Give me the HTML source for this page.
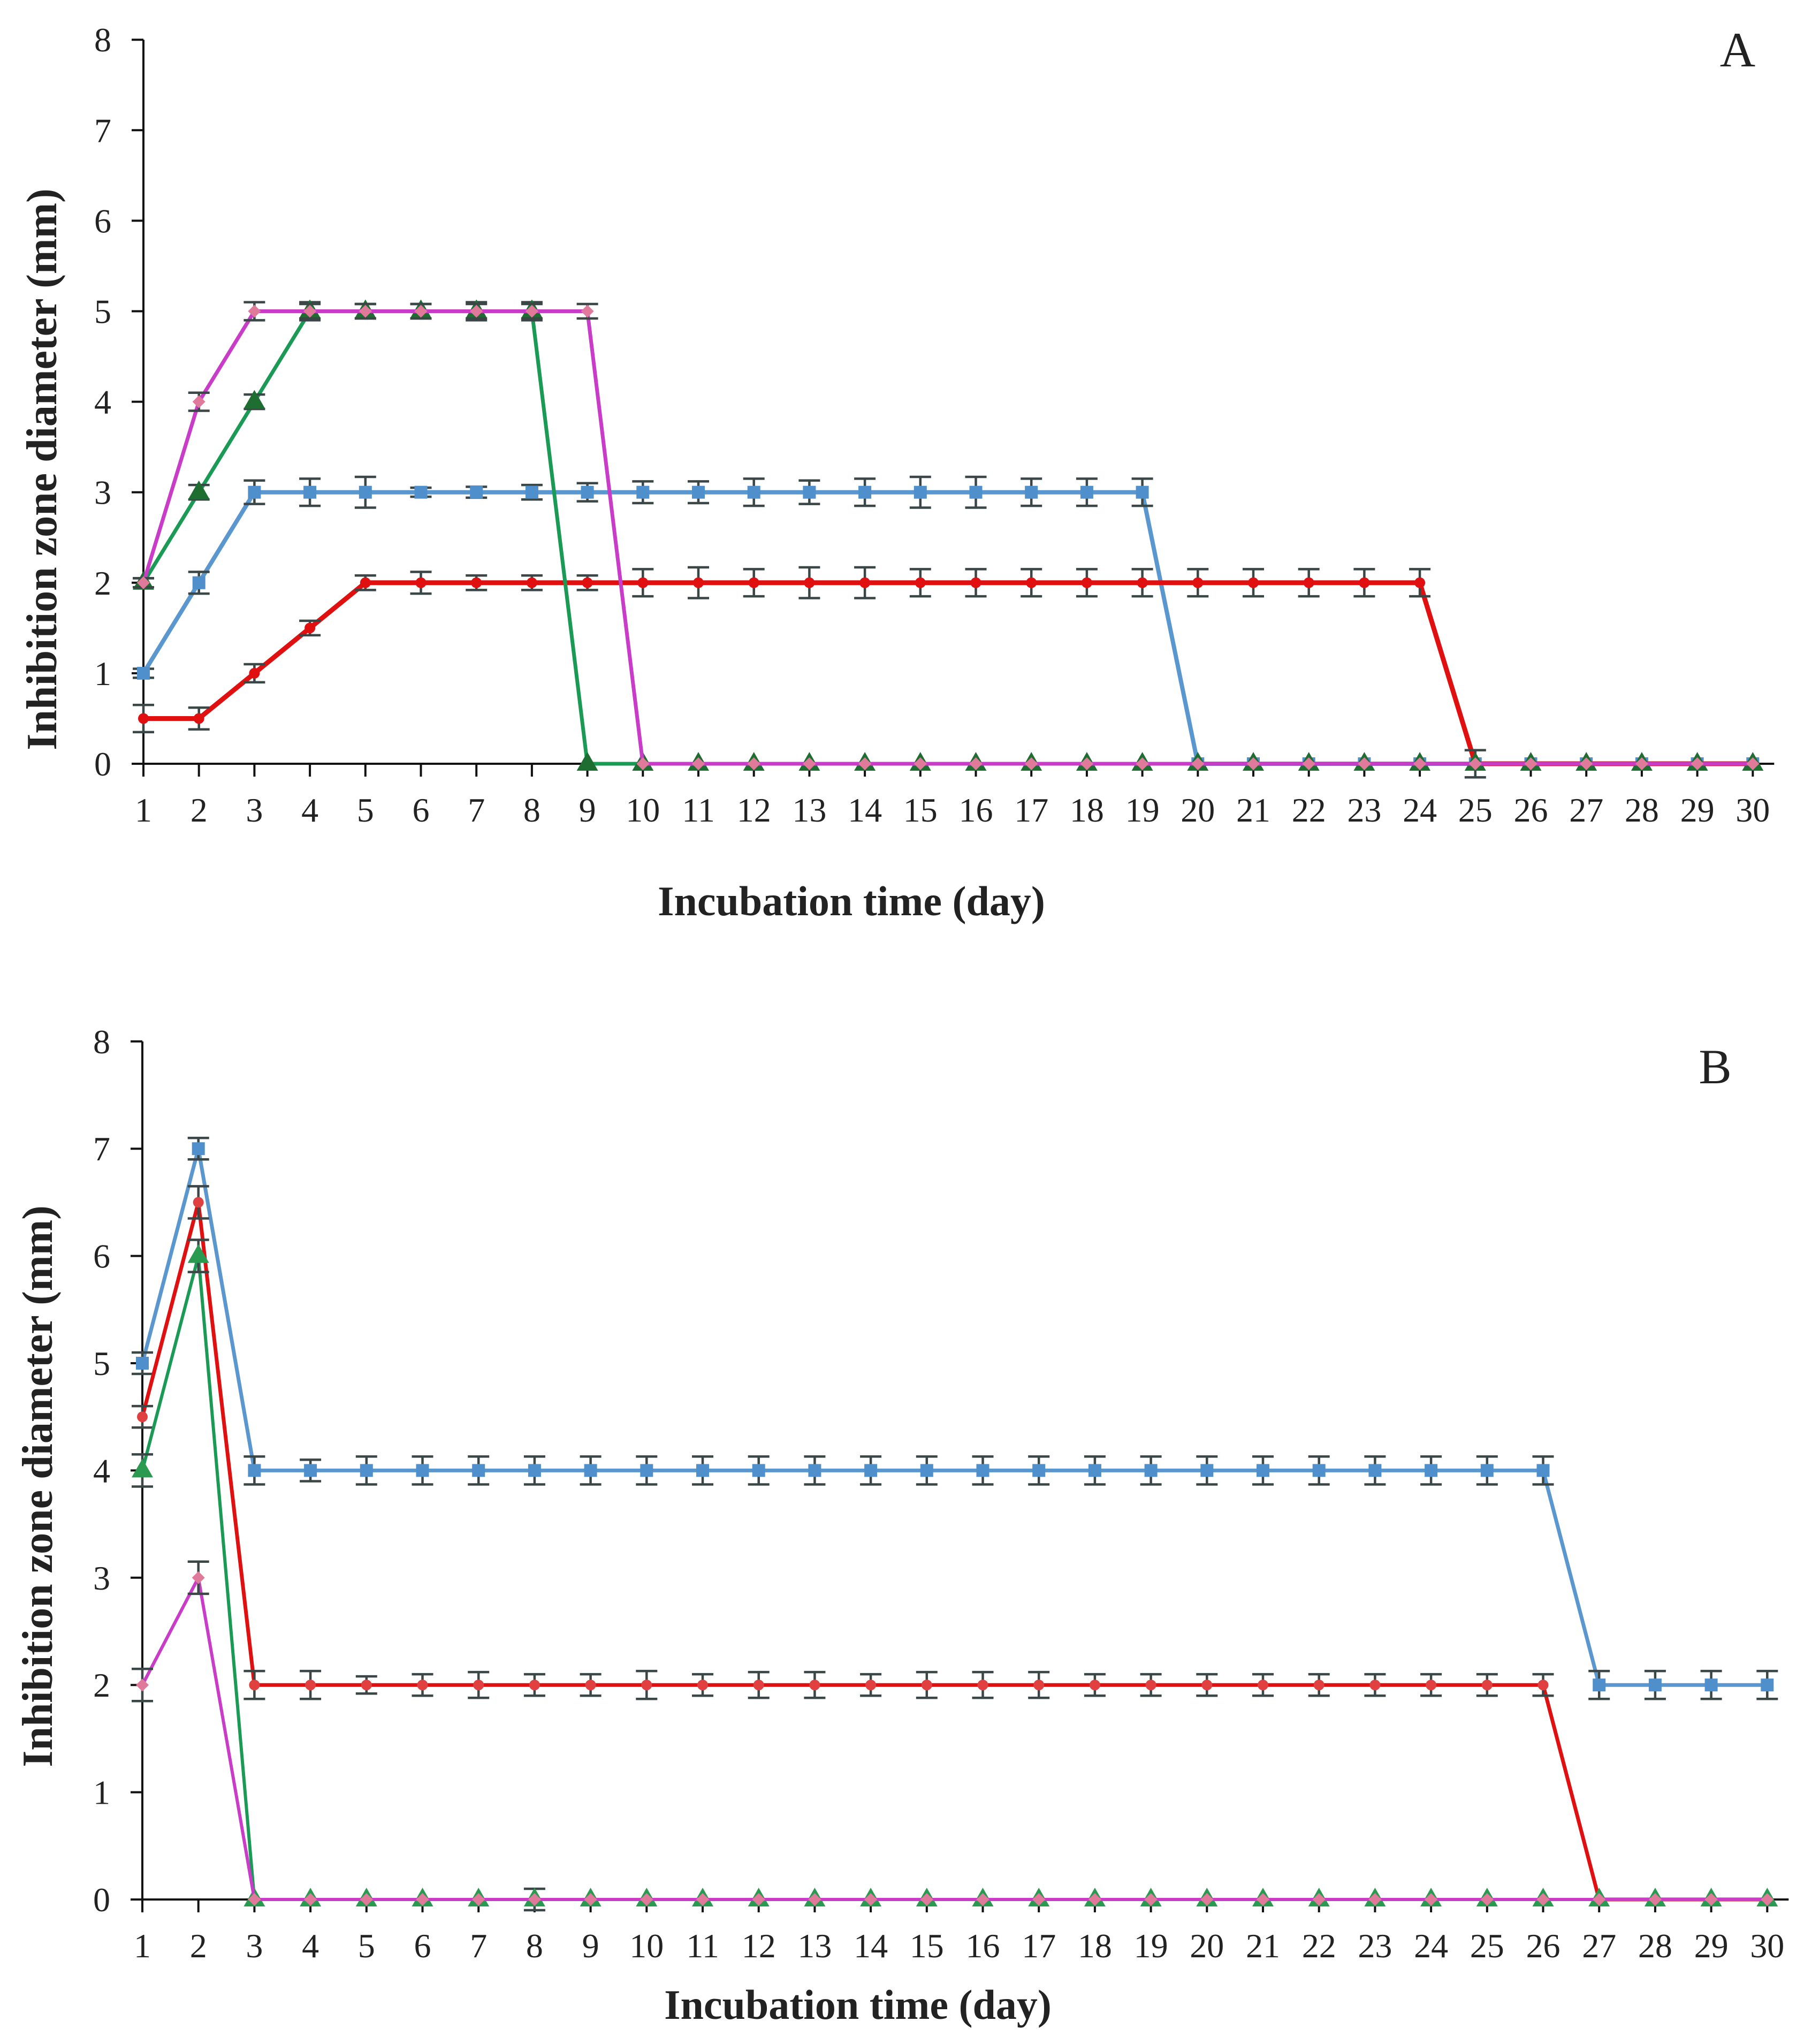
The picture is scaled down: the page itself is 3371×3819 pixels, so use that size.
<!DOCTYPE html>
<html><head><meta charset="utf-8">
<style>
html,body{margin:0;padding:0;background:#fff;}
svg{display:block;}
text{font-family:"Liberation Serif",serif;fill:#222;}
</style></head>
<body>
<svg id="fig" width="3371" height="3819" viewBox="0 0 3371 3819" xmlns="http://www.w3.org/2000/svg"></svg>
<script>
// ---- data ----
const days = [1,2,3,4,5,6,7,8,9,10,11,12,13,14,15,16,17,18,19,20,21,22,23,24,25,26,27,28,29,30];
const yTicks = [0,1,2,3,4,5,6,7,8];

const aRed     = [0.5,0.5,1,1.5,2,2,2,2,2,2,2,2,2,2,2,2,2,2,2,2,2,2,2,2,0,0,0,0,0,0];
const aBlue    = [1,2,3,3,3,3,3,3,3,3,3,3,3,3,3,3,3,3,3,0,0,0,0,0,0,0,0,0,0,0];
const aGreen   = [2,3,4,5,5,5,5,5,0,0,0,0,0,0,0,0,0,0,0,0,0,0,0,0,0,0,0,0,0,0];
const aMagenta = [2,4,5,5,5,5,5,5,5,0,0,0,0,0,0,0,0,0,0,0,0,0,0,0,0,0,0,0,0,0];
const aRedErr  = [0.15,0.12,0.1,0.08,0.08,0.12,0.08,0.08,0.08,0.15,0.17,0.15,0.17,0.17,0.15,0.15,0.15,0.15,0.15,0.15,0.15,0.15,0.15,0.15,0.15,0,0,0,0,0];
const aBlueErr = [0.05,0.12,0.13,0.15,0.17,0.05,0.06,0.08,0.1,0.12,0.12,0.15,0.13,0.15,0.17,0.17,0.15,0.15,0.15,0,0,0,0,0,0,0,0,0,0,0];
const aGreenErr= [0.05,0.08,0.08,0.1,0.08,0.08,0.1,0.1,0,0,0,0,0,0,0,0,0,0,0,0,0,0,0,0,0,0,0,0,0,0];
const aMagErr  = [0.05,0.1,0.1,0.08,0.08,0.08,0.08,0.08,0.08,0,0,0,0,0,0,0,0,0,0,0,0,0,0,0,0,0,0,0,0,0];

const bBlue    = [5,7,4,4,4,4,4,4,4,4,4,4,4,4,4,4,4,4,4,4,4,4,4,4,4,4,2,2,2,2];
const bRed     = [4.5,6.5,2,2,2,2,2,2,2,2,2,2,2,2,2,2,2,2,2,2,2,2,2,2,2,2,0,0,0,0];
const bGreen   = [4,6,0,0,0,0,0,0,0,0,0,0,0,0,0,0,0,0,0,0,0,0,0,0,0,0,0,0,0,0];
const bMagenta = [2,3,0,0,0,0,0,0,0,0,0,0,0,0,0,0,0,0,0,0,0,0,0,0,0,0,0,0,0,0];
const bBlueErr = [0.1,0.1,0.13,0.1,0.13,0.13,0.13,0.13,0.13,0.13,0.13,0.13,0.13,0.13,0.13,0.13,0.13,0.13,0.13,0.13,0.13,0.13,0.13,0.13,0.13,0.13,0.13,0.13,0.13,0.13];
const bRedErr  = [0.1,0.15,0.13,0.13,0.08,0.1,0.12,0.1,0.1,0.13,0.1,0.12,0.12,0.1,0.12,0.12,0.12,0.1,0.1,0.1,0.1,0.1,0.1,0.1,0.1,0.1,0,0,0,0];
const bGreenErr= [0.15,0.15,0,0,0,0,0,0.1,0,0,0,0,0,0,0,0,0,0,0,0,0,0,0,0,0,0,0,0,0,0];
const bMagErr  = [0.15,0.15,0,0,0,0,0,0,0,0,0,0,0,0,0,0,0,0,0,0,0,0,0,0,0,0,0,0,0,0];

const NS = "http://www.w3.org/2000/svg";
const svg = document.getElementById('fig');
function mk(tag, attrs, parent){
  const e = document.createElementNS(NS, tag);
  for (const k in attrs) e.setAttribute(k, attrs[k]);
  (parent||svg).appendChild(e);
  return e;
}

function drawChart(cfg){
  const g = mk('g', {});
  
  
  const xs = d => cfg.x0 + (d - 1) * cfg.dx;
  const ys = v => cfg.y0 - v * cfg.unit;
  const xEnd = xs(30) + 40;
  const ax = mk('line', {x1:cfg.x0, y1:ys(8), x2:cfg.x0, y2:cfg.y0, stroke:'#111', 'stroke-width':4}, g);
  
  
  const bx = mk('line', {x1:cfg.x0-22, y1:cfg.y0, x2:xEnd, y2:cfg.y0, stroke:'#111', 'stroke-width':4}, g);
  
  
  yTicks.forEach(v => {
    mk('line', {x1:cfg.x0-22, y1:ys(v), x2:cfg.x0, y2:ys(v), stroke:'#111', 'stroke-width':4}, g);
    const t = mk('text', {x:cfg.x0-60, y:ys(v)+22, 'font-size':64, 'text-anchor':'end'}, g);
    t.textContent = v;
    
    
  });
  days.forEach(d => {
    mk('line', {x1:xs(d), y1:cfg.y0, x2:xs(d), y2:cfg.y0+24, stroke:'#111', 'stroke-width':4}, g);
    const t = mk('text', {x:xs(d), y:cfg.tickY, 'font-size':64, 'text-anchor':'middle'}, g);
    t.textContent = d;
    
    
  });
  const xt = mk('text', {x:cfg.xtX, y:cfg.xtY, 'font-size':78, 'font-weight':'bold', 'text-anchor':'middle'}, g);
  xt.textContent = 'Incubation time (day)';
  
  
  const yt = mk('text', {x:0, y:0, 'font-size':80, 'font-weight':'bold', 'text-anchor':'middle', transform:`translate(${cfg.ytX},${cfg.ytY}) rotate(-90)`}, g);
  yt.textContent = 'Inhibition zone diameter (mm)';
  
  
  const pl = mk('text', {x:cfg.lblX, y:cfg.lblY, 'font-size':92, 'text-anchor':'middle'}, g);
  pl.textContent = cfg.label;
  
  

  cfg.series.forEach(s => {
    const sg = mk('g', {}, g);
    
    
    const pts = s.vals.map((v,i) => xs(days[i]) + ',' + ys(v)).join(' ');
    const pline = mk('polyline', {points:pts, fill:'none', stroke:s.color, 'stroke-width':s.w, 'stroke-linejoin':'round'}, sg);
    
    
    s.vals.forEach((v,i) => {
      const e = s.err[i], x = xs(days[i]), y = ys(v);
      if (e > 0) {
        const eb = mk('path', {d:`M${x},${ys(v+e)}V${ys(v-e)}M${x-20},${ys(v+e)}H${x+20}M${x-20},${ys(v-e)}H${x+20}`, stroke:'#3b4646', 'stroke-width':4.5, fill:'none'}, sg);
        
        
      }
      let m;
      if (s.marker === 'sq') m = mk('rect', {x:x-12, y:y-12, width:24, height:24, fill:s.mcolor}, sg);
      else if (s.marker === 'tri') m = mk('path', {d:`M${x},${y-22}L${x+20},${y+13}L${x-20},${y+13}Z`, fill:s.mcolor}, sg);
      else if (s.marker === 'dia') m = mk('path', {d:`M${x},${y-12}L${x+12},${y}L${x},${y+12}L${x-12},${y}Z`, fill:s.mcolor}, sg);
      else m = mk('circle', {cx:x, cy:y, r:10, fill:s.mcolor}, sg);
      
      
    });
  });
}

drawChart({
  name:'chart-a', label:'A', x0:268, dx:103.7, y0:1427, unit:169.1,
  tickY:1535, xtX:1591, xtY:1710, ytX:105, ytY:877, lblX:3247, lblY:124,
  series:[
    {name:'series-blue', vals:aBlue, err:aBlueErr, color:'#5b97cf', mcolor:'#4f8fcc', w:8, marker:'sq'},
    {name:'series-red', vals:aRed, err:aRedErr, color:'#e01010', mcolor:'#e01010', w:9, marker:'dot'},
    {name:'series-green', vals:aGreen, err:aGreenErr, color:'#1a9a55', mcolor:'#1d6e30', w:7, marker:'tri'},
    {name:'series-magenta', vals:aMagenta, err:aMagErr, color:'#c83cc8', mcolor:'#e07a9a', w:7, marker:'dia'}
  ]
});
drawChart({
  name:'chart-b', label:'B', x0:266, dx:104.7, y0:3549, unit:200.4,
  tickY:3657, xtX:1603, xtY:3772, ytX:97, ytY:2777, lblX:3205, lblY:2024,
  series:[
    {name:'series-blue', vals:bBlue, err:bBlueErr, color:'#5b97cf', mcolor:'#4f8fcc', w:7, marker:'sq'},
    {name:'series-red', vals:bRed, err:bRedErr, color:'#e01010', mcolor:'#e04040', w:7, marker:'dot'},
    {name:'series-green', vals:bGreen, err:bGreenErr, color:'#1a9a55', mcolor:'#2a9a50', w:6, marker:'tri'},
    {name:'series-magenta', vals:bMagenta, err:bMagErr, color:'#c83cc8', mcolor:'#e07a9a', w:6, marker:'dia'}
  ]
});
</script>
</body></html>
